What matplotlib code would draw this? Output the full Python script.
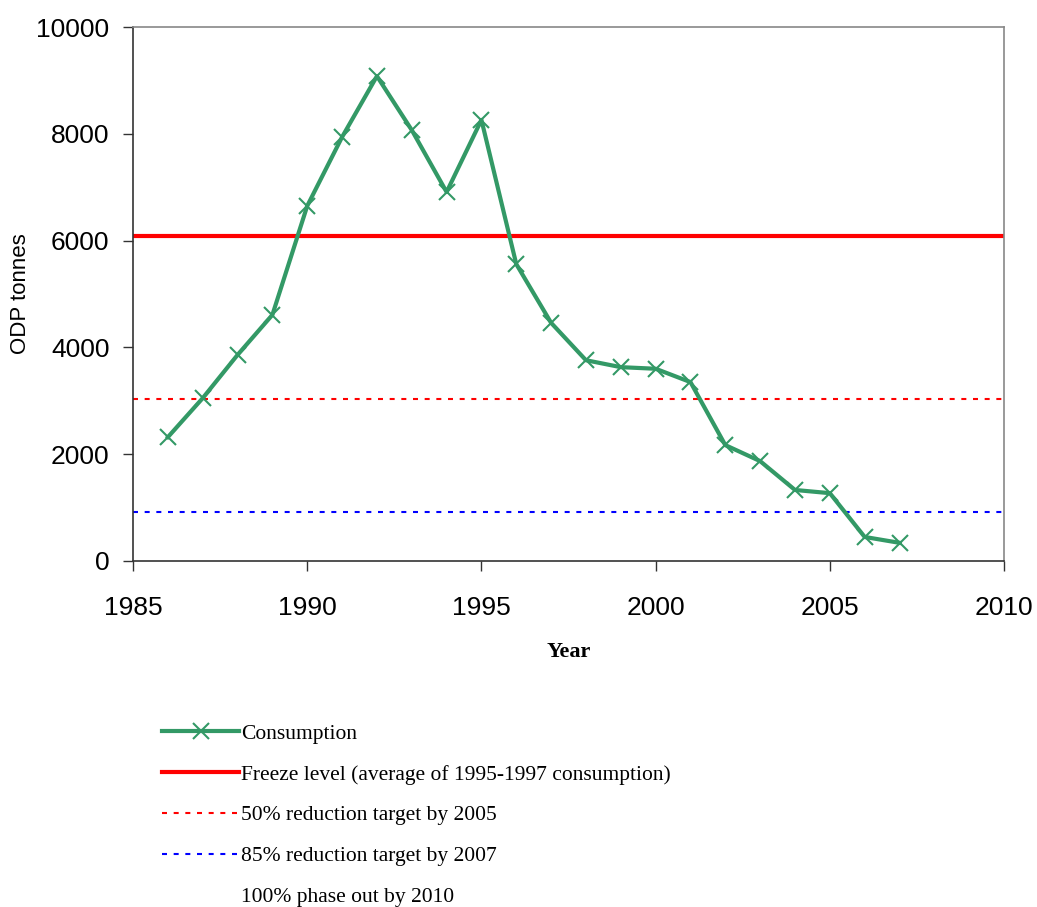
import matplotlib
matplotlib.use("Agg")
import matplotlib.pyplot as plt
from matplotlib.lines import Line2D

years = [1986, 1987, 1988, 1989, 1990, 1991, 1992, 1993, 1994, 1995, 1996,
         1997, 1998, 1999, 2000, 2001, 2002, 2003, 2004, 2005, 2006, 2007]
consumption = [2320, 3050, 3860, 4610, 6650, 7940, 9080, 8070, 6910, 8260, 5560,
               4460, 3760, 3630, 3600, 3350, 2170, 1870, 1330, 1270, 450, 340]
freeze_level = 6080
target_50 = 3040
target_85 = 912
labels = ["Consumption", "Freeze level (average of 1995-1997 consumption)",
          "50% reduction target by 2005", "85% reduction target by 2007",
          "100% phase out by 2010"]
x_ticks = [1985, 1990, 1995, 2000, 2005, 2010]
y_ticks = [0, 2000, 4000, 6000, 8000, 10000]

green = "#339966"
dotted = (0, (2.4, 3.2))
fig = plt.figure(figsize=(10.37, 9.07), dpi=100)
ax = fig.add_axes([0.1283, 0.3815, 0.8399, 0.5887])

ax.axhline(freeze_level, color="#ff0000", lw=3, zorder=2)
ax.axhline(target_50, color="#ff0000", lw=1.5, linestyle=dotted, zorder=2)
ax.axhline(target_85, color="#0000ff", lw=1.5, linestyle=dotted, zorder=2)
ax.plot(years, consumption, color=green, lw=3, marker="x", markersize=12,
        markeredgewidth=1.5, zorder=3)

ax.set_xlim(1985, 2010)
ax.set_ylim(0, 10000)
ax.set_xticks(x_ticks)
ax.set_yticks(y_ticks)
ax.tick_params(direction="out", length=7, width=1, colors="#333333",
               labelsize=19, labelcolor="black")
ax.tick_params(axis="x", pad=18.5)
ax.tick_params(axis="y", pad=10)
for lab in ax.get_xticklabels() + ax.get_yticklabels():
    lab.set_family("Liberation Sans")
for s in ["left", "bottom"]:
    ax.spines[s].set_color("#333333")
    ax.spines[s].set_linewidth(1.2)
for s in ["top", "right"]:
    ax.spines[s].set_color("#888888")
    ax.spines[s].set_linewidth(1.2)

ax.set_ylabel("ODP tonnes", fontsize=16, family="Liberation Sans")
ax.yaxis.set_label_coords(-0.117, 0.5)
ax.set_xlabel("Year", fontsize=16, family="Liberation Serif", fontweight="bold")
ax.xaxis.set_label_coords(0.5, -0.152)

handles = [
    Line2D([0, 0.5, 1], [0, 0, 0], color=green, lw=3, marker="x", markersize=12,
           markeredgewidth=1.5, markevery=[1]),
    Line2D([], [], color="#ff0000", lw=3),
    Line2D([], [], color="#ff0000", lw=1.5, linestyle=dotted),
    Line2D([], [], color="#0000ff", lw=1.5, linestyle=dotted),
    Line2D([], [], color="none", lw=0),
]
leg = fig.legend(handles, labels, loc="upper left", bbox_to_anchor=(0.156, 0.202),
                 frameon=False, prop={"family": "Liberation Serif", "size": 15.5},
                 handlelength=3.6, handletextpad=0.1, labelspacing=0.96,
                 borderpad=0, borderaxespad=0)
fig.savefig("out.png", dpi=100)
